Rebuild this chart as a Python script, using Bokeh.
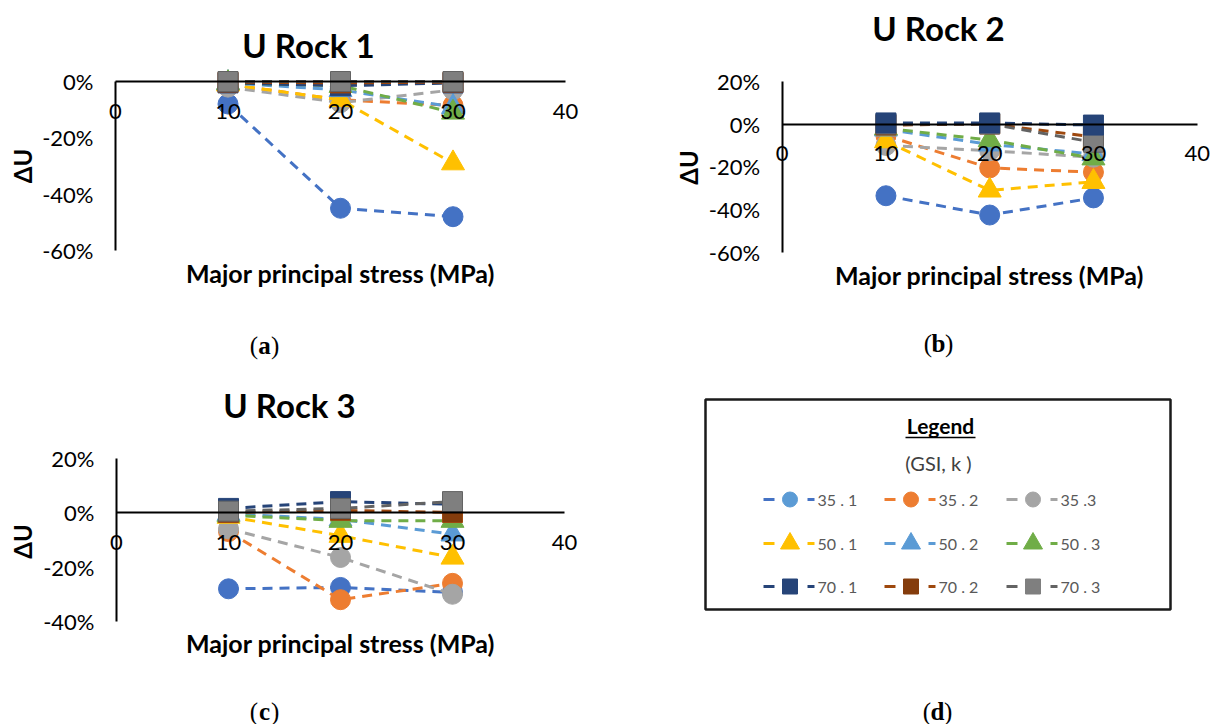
import math
from bokeh.plotting import figure
from bokeh.models import Range1d, FixedTicker, NumeralTickFormatter, Label
from bokeh.layouts import row, column
from bokeh.core.properties import value
from bokeh.embed import file_html
from bokeh.resources import INLINE

# ---------------- data ----------------
STRESS = [10, 20, 30]                      # major principal stress (MPa)
X_TICKS = [0, 10, 20, 30, 40]
SERIES = ["35 . 1", "35 . 2", "35 .3", "50 . 1", "50 . 2", "50 . 3", "70 . 1", "70 . 2", "70 . 3"]

# U Rock 1  (delta U, fraction)
R1_35_1 = [-0.08, -0.45, -0.48]
R1_35_2 = [-0.01, -0.065, -0.085]
R1_35_3 = [-0.02, -0.075, -0.03]
R1_50_1 = [-0.01, -0.065, -0.29]
R1_50_2 = [-0.005, -0.03, -0.09]
R1_50_3 = [-0.005, -0.015, -0.11]
R1_70_1 = [-0.005, -0.015, -0.005]
R1_70_2 = [-0.002, -0.005, -0.002]
R1_70_3 = [0.0, 0.0, 0.0]
R1_TICKS = [0.0, -0.2, -0.4, -0.6]

# U Rock 2
R2_35_1 = [-0.335, -0.425, -0.345]
R2_35_2 = [-0.055, -0.205, -0.225]
R2_35_3 = [-0.10, -0.125, -0.155]
R2_50_1 = [-0.08, -0.31, -0.27]
R2_50_2 = [-0.025, -0.095, -0.14]
R2_50_3 = [-0.02, -0.075, -0.16]
R2_70_1 = [0.005, 0.005, -0.005]
R2_70_2 = [-0.005, 0.0, -0.06]
R2_70_3 = [0.0, 0.0, -0.085]
R2_TICKS = [0.2, 0.0, -0.2, -0.4, -0.6]

# U Rock 3
R3_35_1 = [-0.28, -0.275, -0.293]
R3_35_2 = [-0.07, -0.32, -0.26]
R3_35_3 = [-0.06, -0.165, -0.30]
R3_50_1 = [-0.015, -0.085, -0.165]
R3_50_2 = [-0.005, -0.025, -0.08]
R3_50_3 = [-0.01, -0.03, -0.03]
R3_70_1 = [0.015, 0.04, 0.03]
R3_70_2 = [0.0, 0.008, 0.0]
R3_70_3 = [0.005, 0.015, 0.04]
R3_TICKS = [0.2, 0.0, -0.2, -0.4]

# ---------------- styles ----------------
LINE_COLORS = ["#4472C4", "#ED7D31", "#A5A5A5", "#FFC000", "#5B9BD5", "#70AD47", "#264478", "#9E480E", "#636363"]
MARK_COLORS = ["#4472C4", "#ED7D31", "#A5A5A5", "#FFC000", "#5B9BD5", "#70AD47", "#264478", "#843C0C", "#7F7F7F"]
LEG_MARK_COLORS = ["#5B9BD5", "#ED7D31", "#A5A5A5", "#FFC000", "#5B9BD5", "#70AD47", "#264478", "#843C0C", "#7F7F7F"]
MARKERS = ["circle"] * 3 + ["triangle"] * 3 + ["square"] * 3
MSIZE = {"circle": 20, "triangle": 23, "square": 20}
FONT = "Lato"
SERIF = "Liberation Serif"


class Panel:
    """A figure whose frame fills the whole canvas; the scales are chosen so that
    x=0/40 and two y values land on the wanted pixel positions."""

    def __init__(self, W, H, x0px, x40px, ya, ya_px, yb, yb_px):
        self.W, self.H = W, H
        self.sx = (x40px - x0px) / 40.0
        self.x_start = -x0px / self.sx
        self.x_end = 40 + (W - x40px) / self.sx
        self.sy = (yb_px - ya_px) / (ya - yb)
        self.y_end = ya + ya_px / self.sy
        self.y_start = yb - (H - yb_px) / self.sy

    def dx(self, px):
        return self.x_start + px / self.sx

    def dy(self, py):
        return self.y_end - py / self.sy


def lab(p, g, text, px, py, size, bold=False, angle=0.0, font=FONT, color="#000000",
        align="center"):
    p.add_layout(Label(x=g.dx(px), y=g.dy(py), text=text,
                       text_font=font, text_font_size=size,
                       text_font_style="bold" if bold else "normal",
                       text_color=color, text_align=align, text_baseline="middle",
                       angle=angle))


def panel(series_vals, order, yr, yticks, g, title, t_xy, xt_xy, yl_xy, cap, cap_xy):
    p = figure(width=g.W, height=g.H, x_range=Range1d(g.x_start, g.x_end),
               y_range=Range1d(g.y_start, g.y_end),
               output_backend="svg", toolbar_location=None, min_border=0)
    p.outline_line_color = None
    p.xgrid.visible = False
    p.ygrid.visible = False
    p.xaxis.fixed_location = 0
    p.yaxis.fixed_location = 0
    p.xaxis.bounds = (0, 40)
    p.yaxis.bounds = yr
    p.xaxis.ticker = FixedTicker(ticks=X_TICKS)
    p.yaxis.ticker = FixedTicker(ticks=yticks)
    p.yaxis.formatter = NumeralTickFormatter(format="0%")
    for ax in (p.xaxis[0], p.yaxis[0]):
        ax.axis_line_color = "black"
        ax.axis_line_width = 2
        ax.major_tick_line_color = None
        ax.minor_tick_line_color = None
        ax.major_tick_out = 0
        ax.major_tick_in = 0
        ax.major_label_text_font = FONT
        ax.major_label_text_font_size = "22px"
        ax.major_label_text_color = "#000000"
    p.xaxis.major_label_standoff = 22
    p.yaxis.major_label_standoff = 22

    for i in order:
        vals = series_vals[i]
        p.line(STRESS, vals, line_color=LINE_COLORS[i], line_width=3, line_dash="10 7")
        m = MARKERS[i]
        p.scatter(STRESS, vals, marker=m, size=MSIZE[m], fill_color=MARK_COLORS[i],
                  line_color=LINE_COLORS[i], line_width=1)

    lab(p, g, title, t_xy[0], t_xy[1], "33px", bold=True)
    lab(p, g, "Major principal stress (MPa)", xt_xy[0], xt_xy[1], "25px", bold=True)
    lab(p, g, "ΔU", yl_xy[0], yl_xy[1], "24px", bold=True, angle=math.pi / 2)
    cx, cy = cap_xy
    lab(p, g, "(", cx - 6.5, cy, "25px", font=SERIF, align="right")
    lab(p, g, cap, cx, cy, "25px", bold=True, font=SERIF)
    lab(p, g, ")", cx + 6.5, cy, "25px", font=SERIF, align="left")
    return p


R1 = [R1_35_1, R1_35_2, R1_35_3, R1_50_1, R1_50_2, R1_50_3, R1_70_1, R1_70_2, R1_70_3]
R2 = [R2_35_1, R2_35_2, R2_35_3, R2_50_1, R2_50_2, R2_50_3, R2_70_1, R2_70_2, R2_70_3]
R3 = [R3_35_1, R3_35_2, R3_35_3, R3_50_1, R3_50_2, R3_50_3, R3_70_1, R3_70_2, R3_70_3]

ga = Panel(608, 362, 115, 565, 0.0, 81, -0.6, 250)
gb = Panel(607, 362, 173.7, 588.7, 0.0, 123.5, -0.6, 252)
gc = Panel(608, 362, 116, 564, 0.2, 95.5, -0.4, 259)

pa = panel(R1, [0, 1, 2, 3, 4, 5, 6, 7, 8], (-0.6, 0.0), R1_TICKS, ga,
           "U Rock 1", (308, 44), (340, 272), (22, 165.5), "a", (264, 345))
pb = panel(R2, [0, 1, 2, 3, 4, 5, 7, 8, 6], (-0.6, 0.2), R2_TICKS, gb,
           "U Rock 2", (330, 27), (381, 274), (80, 167), "b", (330, 343))
pc = panel(R3, [0, 1, 2, 3, 4, 5, 6, 7, 8], (-0.4, 0.2), R3_TICKS, gc,
           "U Rock 3", (289, 42), (340, 280), (22, 179), "c", (264, 349))

# ---------------- legend panel (d) ----------------
pd_ = figure(width=607, height=362, x_range=Range1d(0, 607), y_range=Range1d(362, 0),
             output_backend="svg", toolbar_location=None, x_axis_type=None, y_axis_type=None,
             min_border=0)
pd_.outline_line_color = None
pd_.xgrid.visible = False
pd_.ygrid.visible = False
pd_.quad(left=[97], right=[562], top=[37], bottom=[247], fill_color=None,
         line_color="#1a1a1a", line_width=2.5)
pd_.text(x=[332], y=[63], text=["Legend"], text_font=value(FONT), text_font_size="21px",
         text_font_style="bold", text_align="center", text_baseline="middle", text_color="#000000")
pd_.segment(x0=[297], x1=[367], y0=[75], y1=[75], line_color="#000000", line_width=1.5)
pd_.text(x=[330], y=[100], text=["(GSI, k )"], text_font=value(FONT), text_font_size="20px",
         text_align="center", text_baseline="middle", text_color="#404040")

COL_X = [155, 276, 398]
ROW_Y = [137, 181, 224]
for i, name in enumerate(SERIES):
    x0 = COL_X[i % 3]
    y0 = ROW_Y[i // 3]
    pd_.segment(x0=[x0, x0 + 44], x1=[x0 + 11, x0 + 51], y0=[y0, y0], y1=[y0, y0],
                line_color=LINE_COLORS[i], line_width=3)
    m = MARKERS[i]
    pd_.scatter([x0 + 26.5], [y0], marker=m, size={"circle": 15, "triangle": 19, "square": 15}[m],
                fill_color=LEG_MARK_COLORS[i], line_color=LEG_MARK_COLORS[i])
    pd_.text(x=[x0 + 54], y=[y0], text=[name], text_font=value(FONT), text_font_size="16px",
             text_align="left", text_baseline="middle", text_color="#595959")

pd_.text(x=[322.5], y=[349], text=["("], text_font=value(SERIF), text_font_size="25px",
         text_align="right", text_baseline="middle")
pd_.text(x=[329], y=[349], text=["d"], text_font=value(SERIF), text_font_size="25px",
         text_font_style="bold", text_align="center", text_baseline="middle")
pd_.text(x=[335.5], y=[349], text=[")"], text_font=value(SERIF), text_font_size="25px",
         text_align="left", text_baseline="middle")

layout = column(row(pa, pb), row(pc, pd_))
open("out.html", "w").write(file_html(layout, INLINE))
